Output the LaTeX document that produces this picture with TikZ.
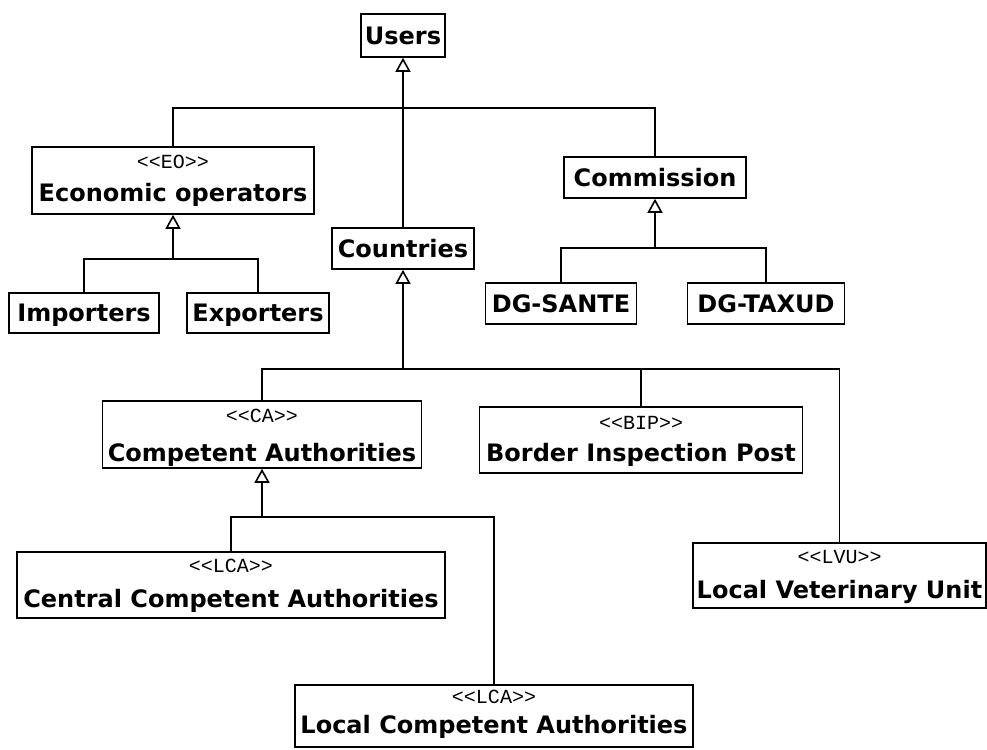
\documentclass[tikz,border=0pt]{standalone}
\usepackage{fontspec}
\setmainfont{DejaVu Sans}
\newfontfamily\monofnt{Liberation Mono}
\usetikzlibrary{arrows.meta}
\newcommand{\stereo}[1]{<\kern0pt<#1>\kern0pt>}
\begin{document}
\begin{tikzpicture}[x=1pt,y=-1pt,
  umlbox/.style args={#1/#2}{draw=black, line width=1.6pt, fill=white, inner sep=0pt,
    minimum width=#1pt, minimum height=#2pt,
    font=\bfseries\fontsize{24}{24}\selectfont, text height=17.5pt, text depth=0pt},
  nm/.style={font=\bfseries\fontsize{24}{24}\selectfont, anchor=base, inner sep=0pt},
  st/.style={font=\monofnt\fontsize{20}{20}\selectfont, anchor=base, inner sep=0pt},
  conn/.style={draw=black, line width=1.6pt},
  gen/.style={conn, -{Triangle[open, width=15pt, length=14pt, fill=white]}}
]
\useasboundingbox[fill=white] (0,0) rectangle (987,749);

% boxes
\node[umlbox=84/43] (users) at (403,35.5) {Users};
\node[umlbox=282/67] (eo) at (173,180.5) {};
\node[st] (eo-s) at (173,168) {\stereo{EO}};
\node[nm] (eo-n) at (173,201) {Economic operators};
\node[umlbox=150/40] (imp) at (84,313) {Importers};
\node[umlbox=142/40] (exp) at (258,313) {Exporters};
\node[umlbox=142/41] (countries) at (403,248.5) {Countries};
\node[umlbox=182/41] (com) at (655,177.5) {Commission};
\node[umlbox=151/41] (sante) at (561,303.5) {DG-SANTE};
\node[umlbox=157/41] (taxud) at (766,303.5) {DG-TAXUD};

\node[umlbox=319/67] (ca) at (262,434.5) {};
\node[st] (ca-s) at (262,422) {\stereo{CA}};
\node[nm] (ca-n) at (262,461) {Competent Authorities};

\node[umlbox=323/66] (bip) at (641,440) {};
\node[st] (bip-s) at (641,429) {\stereo{BIP}};
\node[nm] (bip-n) at (641,461) {Border Inspection Post};

\node[umlbox=428/66] (cca) at (231,585) {};
\node[st] (cca-s) at (231,572) {\stereo{LCA}};
\node[nm] (cca-n) at (231,607) {Central Competent Authorities};

\node[umlbox=293/65] (lvu) at (839.5,575.5) {};
\node[st] (lvu-s) at (839.5,563) {\stereo{LVU}};
\node[nm] (lvu-n) at (839.5,598) {Local Veterinary Unit};

\node[umlbox=398/62] (lca) at (494,716) {};
\node[st] (lca-s) at (494,703) {\stereo{LCA}};
\node[nm] (lca-n) at (494,733) {Local Competent Authorities};

% junctions
\coordinate (jtop) at (403,108);
\coordinate (jeo) at (173,259);
\coordinate (jcom) at (655,248);
\coordinate (jc) at (403,369);
\coordinate (jca) at (262,517);

% connectors
\draw[gen] (countries.north) -- (users.south);
\draw[conn] (eo.north) |- (jtop);
\draw[conn] (com.north) |- (jtop);

\draw[gen] (jeo) -- (eo.south);
\draw[conn] (imp.north) |- (jeo);
\draw[conn] (exp.north) |- (jeo);

\draw[gen] (jcom) -- (com.south);
\draw[conn] (sante.north) |- (jcom);
\draw[conn] (taxud.north) |- (jcom);

\draw[gen] (jc) -- (countries.south);
\draw[conn] (ca.north) |- (jc);
\draw[conn] (bip.north) |- (jc);
\draw[conn] (lvu.north) |- (jc);

\draw[gen] (jca) -- (ca.south);
\draw[conn] (cca.north) |- (jca);
\draw[conn] (lca.north) |- (jca);
\end{tikzpicture}
\end{document}
